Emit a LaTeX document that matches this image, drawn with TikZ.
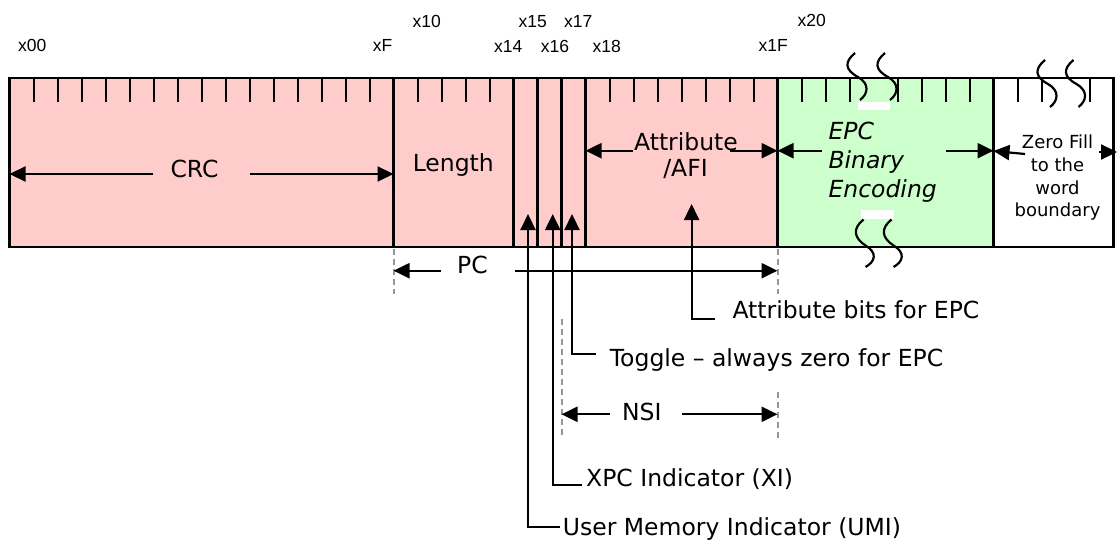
\documentclass[tikz,border=0pt]{standalone}
\usepackage{fontspec}
\setmainfont{DejaVu Sans}
\newfontfamily\arialf{Liberation Sans}
\usetikzlibrary{arrows.meta}
\definecolor{pinkf}{RGB}{255,204,204}
\definecolor{greenf}{RGB}{204,255,204}
\definecolor{dashg}{RGB}{150,150,150}
\tikzset{
  lbl/.style={font=\arialf\fontsize{17.5}{20}\selectfont, inner sep=0pt, anchor=base},
  txt/.style={font=\fontsize{23.5}{28}\selectfont, inner sep=0pt, anchor=base},
  txtw/.style={txt, anchor=base west},
  itw/.style={font=\itshape\fontsize{23.5}{28}\selectfont, inner sep=0pt, anchor=base west},
  sm/.style={font=\fontsize{18}{22}\selectfont, inner sep=0pt, anchor=base},
  arr/.style={line width=2.2pt, -{Triangle[length=16pt,width=15pt]}},
  tick/.style={line width=2pt},
  border/.style={line width=2.2pt},
  guide/.style={dashg, line width=2pt, dash pattern=on 6pt off 4pt},
  squig/.style={line width=2.2pt},
}
\begin{document}
\begin{tikzpicture}[x=1pt,y=-1pt]
\useasboundingbox (0,0) rectangle (1118,543);
% field fills
\fill[pinkf] (9.5,78) rectangle (777.5,247);
\fill[greenf] (777.5,78) rectangle (993.5,247);
\fill[white] (993.5,78) rectangle (1113.5,247);
% ticks
\foreach \n in {1,...,15,17,18,19,20,25,26,27,28,29,30,31,33,34,35,37,38,39,40,42,43,45}
  \draw[tick] ({9.5+24*\n},78) -- ++(0,24);
% border and dividers
\draw[border] (9.5,78) rectangle (1113.5,247);
\foreach \n in {16,21,22,23,24,32,41}
  \draw[border] ({9.5+24*\n},78) -- ({9.5+24*\n},247);
% break marks
\fill[white] (857.5,102) rectangle (890,110);
\fill[white] (861,210) rectangle (894,218.5);
\foreach \x/\y in {855/53, 885/53, 1045/60, 1073.5/60}
  \draw[squig] (\x,\y) .. controls (\x-11,\y+9) and (\x-10,\y+17) .. (\x+3,\y+24)
                .. controls (\x+15,\y+31) and (\x+13,\y+41) .. (\x+5,\y+47);
\foreach \x/\y in {863.5/219.5, 891.5/219.5}
  \draw[squig] (\x,\y) .. controls (\x-11,\y+9) and (\x-10,\y+18) .. (\x+2,\y+26)
                .. controls (\x+14,\y+33) and (\x+12,\y+42) .. (\x+2,\y+47.5);
% address labels
\node[lbl] (l00) at (32.3,51.7) {x00};
\node[lbl] (l0F) at (382.7,51.7) {xF};
\node[lbl] (l10) at (426.7,27.3) {x10};
\node[lbl] (l14) at (508.3,52.3) {x14};
\node[lbl] (l15) at (532.7,27.3) {x15};
\node[lbl] (l16) at (555,52.3) {x16};
\node[lbl] (l17) at (578.3,27.3) {x17};
\node[lbl] (l18) at (606.7,52.3) {x18};
\node[lbl] (l1F) at (773.3,51.3) {x1F};
\node[lbl] (l20) at (811.7,26.5) {x20};
% field texts
\node[txt] (crc) at (194.5,177.3) {CRC};
\node[txt] (len) at (453.3,171.7) {Length};
\node[txt] (attr1) at (686,150.7) {Attribute};
\node[txt] (attr2) at (685.5,176) {/AFI};
\node[itw] (epc1) at (828.3,139.3) {EPC};
\node[itw] (epc2) at (828.3,168.3) {Binary};
\node[itw] (epc3) at (828.3,197.3) {Encoding};
\node[sm] (zf1) at (1057.5,148.7) {Zero Fill};
\node[sm] (zf2) at (1057.5,171.7) {to the};
\node[sm] (zf3) at (1057.5,194.3) {word};
\node[sm] (zf4) at (1057.5,216.7) {boundary};
% span labels
\node[txt] (pc) at (472.4,273.3) {PC};
\node[txt] (nsi) at (641.8,420) {NSI};
% pointer texts
\node[txtw] (tattr) at (732.3,318.3) {Attribute bits for EPC};
\node[txtw] (ttog) at (609.6,366.7) {Toggle – always zero for EPC};
\node[txtw] (txi) at (586,486) {XPC Indicator (XI)};
\node[txtw] (tumi) at (562.7,535) {User Memory Indicator (UMI)};
% coordinates
\coordinate (crcL) at (153,174);   \coordinate (crcLt) at (9.5,174);
\coordinate (crcR) at (249.5,174); \coordinate (crcRt) at (393.5,174);
\coordinate (atL) at (633,150.7);  \coordinate (atLt) at (585.5,150.7);
\coordinate (atR) at (730,150.7);  \coordinate (atRt) at (777.5,150.7);
\coordinate (epL) at (821.7,150.7); \coordinate (epLt) at (777.5,150.7);
\coordinate (epR) at (945.7,150.7); \coordinate (epRt) at (993.5,150.7);
\coordinate (zfL) at (1025,154);   \coordinate (zfLt) at (993.5,151);
\coordinate (zfR) at (1099,152);   \coordinate (zfRt) at (1117,152);
\coordinate (pcL) at (441.4,270.7); \coordinate (pcLt) at (393.5,270.7);
\coordinate (pcR) at (514.6,270.7); \coordinate (pcRt) at (777.5,270.7);
\coordinate (nsL) at (609.6,414.3); \coordinate (nsLt) at (561.5,414.3);
\coordinate (nsR) at (682,414.3);   \coordinate (nsRt) at (777.5,414.3);
\coordinate (pAttr) at (715.3,319); \coordinate (tipAttr) at (691.6,204);
\coordinate (pTog) at (595.8,354);  \coordinate (tipTog) at (572,214);
\coordinate (pXI) at (582,485);     \coordinate (tipXI) at (552.7,214);
\coordinate (pUMI) at (560,526.7);  \coordinate (tipUMI) at (528,214);
% guides
\draw[guide] (393.5,249) -- (393.5,294);
\draw[guide] (777.5,249) -- (777.5,294);
\draw[guide] (561.5,319) -- (561.5,438);
\draw[guide] (777.5,391.7) -- (777.5,438);
% span arrows
\draw[arr] (crcL) -- (crcLt);
\draw[arr] (crcR) -- (crcRt);
\draw[arr] (atL) -- (atLt);
\draw[arr] (atR) -- (atRt);
\draw[arr] (epL) -- (epLt);
\draw[arr] (epR) -- (epRt);
\draw[arr] (zfL) -- (zfLt);
\draw[arr] (zfR) -- (zfRt);
\draw[arr] (pcL) -- (pcLt);
\draw[arr] (pcR) -- (pcRt);
\draw[arr] (nsL) -- (nsLt);
\draw[arr] (nsR) -- (nsRt);
% pointers
\draw[arr] (pAttr) -| (tipAttr);
\draw[arr] (pTog) -| (tipTog);
\draw[arr] (pXI) -| (tipXI);
\draw[arr] (pUMI) -| (tipUMI);
\end{tikzpicture}
\end{document}
